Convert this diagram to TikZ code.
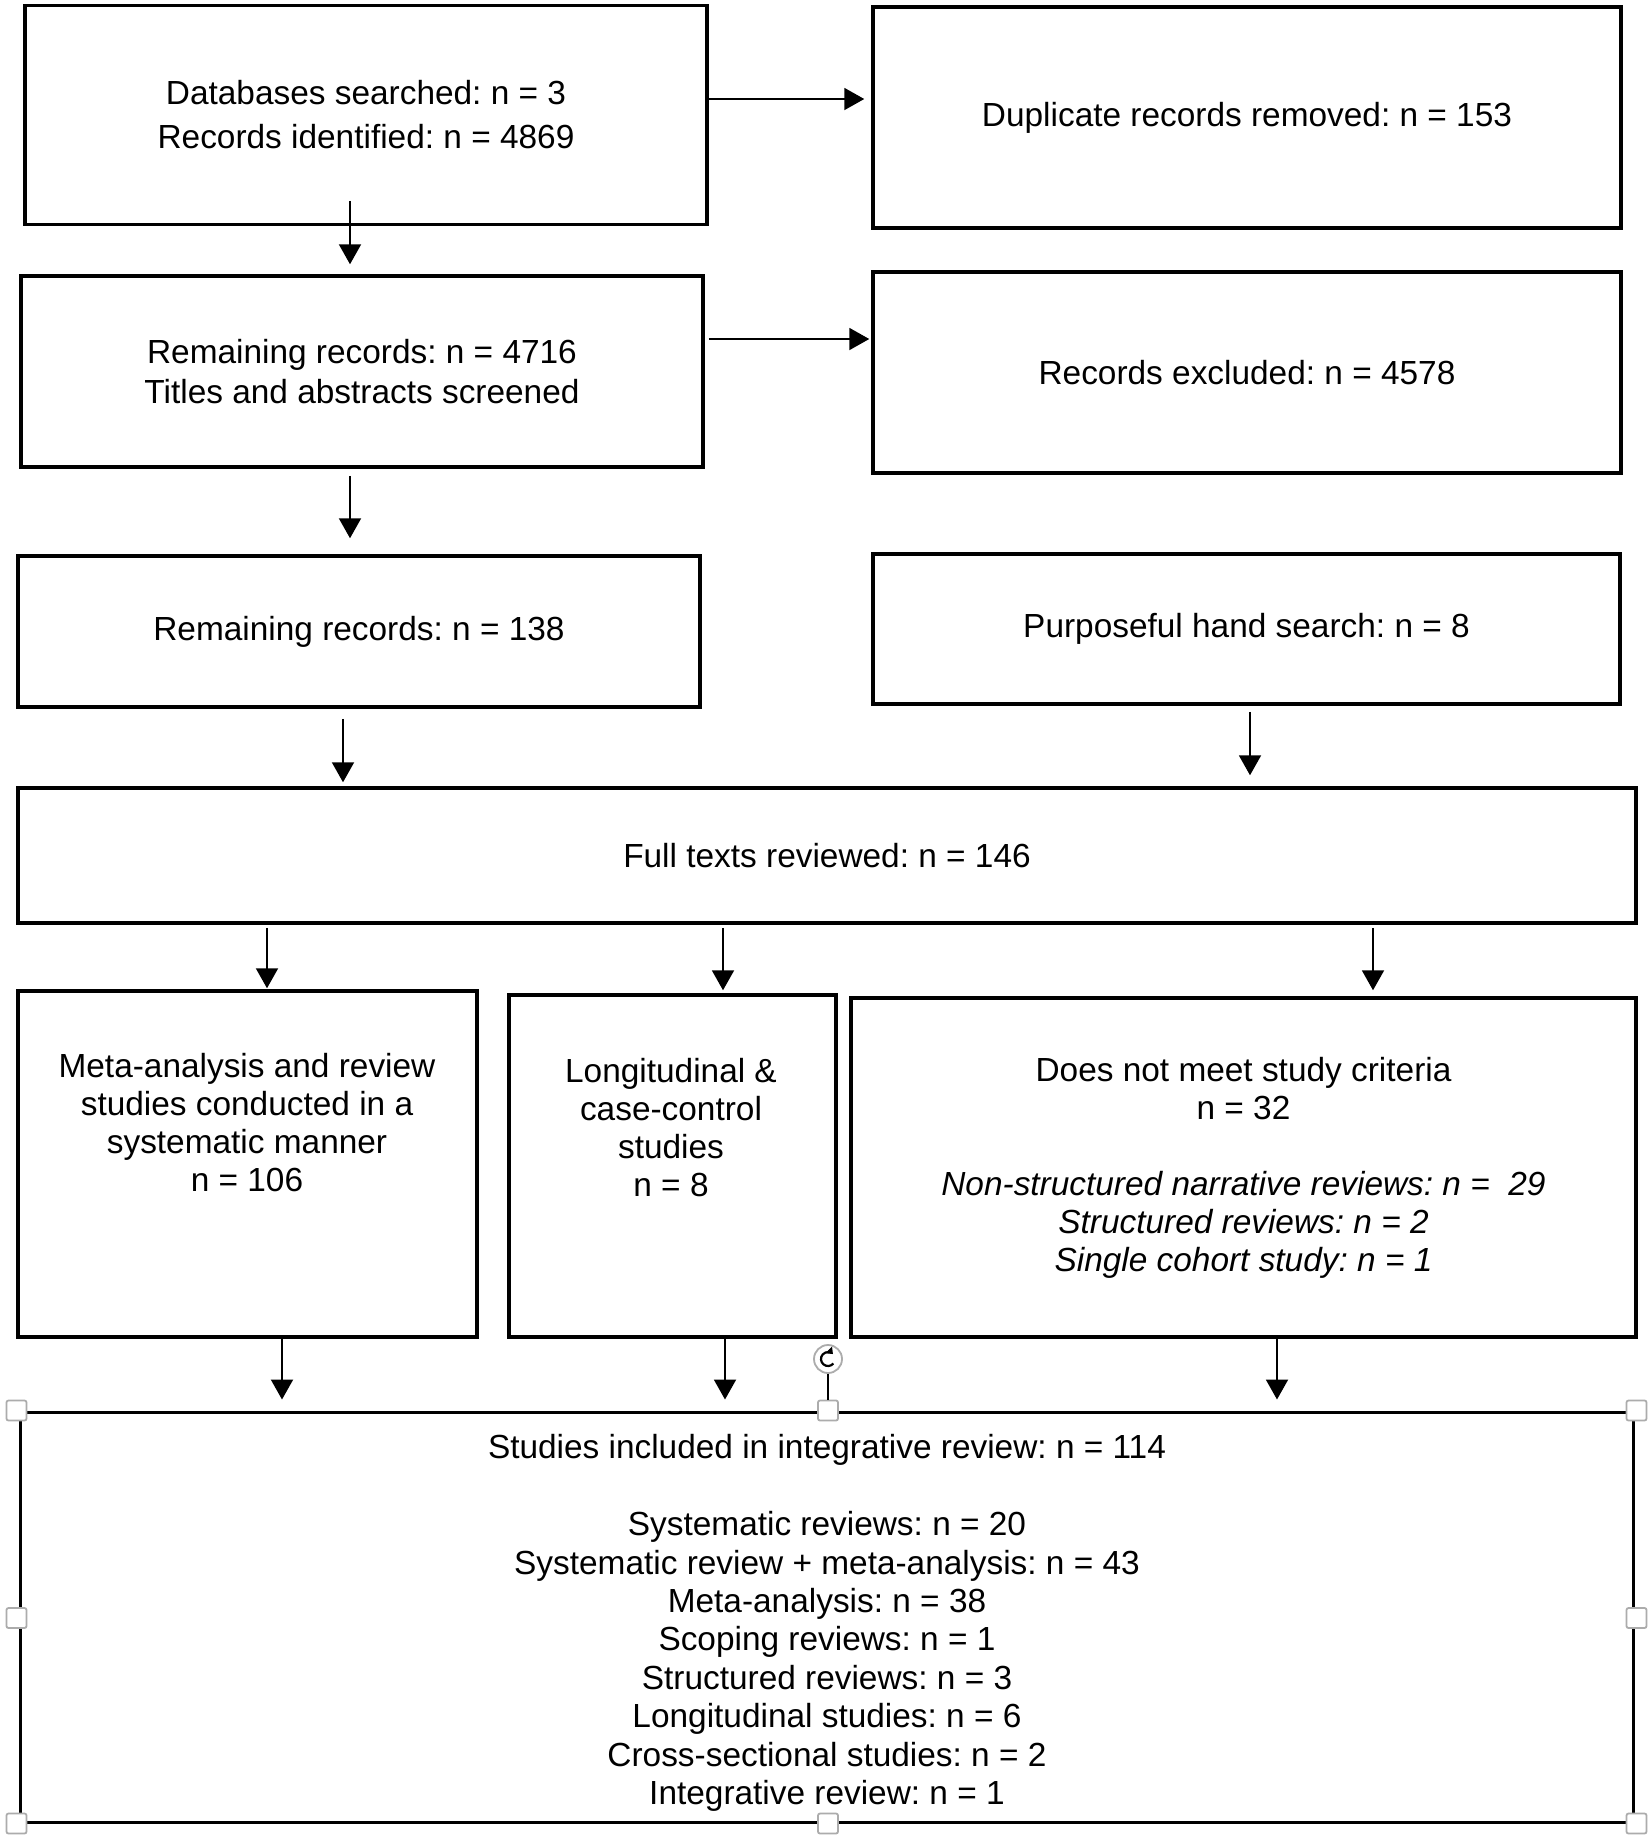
\documentclass[tikz,border=0pt]{standalone}
\usepackage{fontspec}
\setmainfont{Liberation Sans}
\usetikzlibrary{arrows.meta,calc}
\frenchspacing
\begin{document}
\begin{tikzpicture}[x=0.5pt,y=-0.5pt,
  box/.style={draw, line width=1.75pt, inner sep=0pt, rectangle},
  txt/.style={align=center, inner sep=0pt, font=\fontsize{16.7}{19}\selectfont},
  arr/.style={line width=1pt, -{Triangle[length=10pt,width=11pt]}},
  handle/.style={draw=gray!65, fill=white, line width=0.9pt, rounded corners=1pt, minimum size=10pt, inner sep=0pt, rectangle}]
\useasboundingbox (0,0) rectangle (1652,1843);
\fill[white] (0,0) rectangle (1652,1843);

% boxes
\node[box, txt, font=\fontsize{16.7}{22}\selectfont, minimum width=682*0.5pt, minimum height=219*0.5pt] (b1) at (366,115)
  {Databases searched: n = 3\\Records identified: n = 4869};
\node[box, txt, minimum width=748*0.5pt, minimum height=221*0.5pt] (b2) at (1247,117.5)
  {Duplicate records removed: n = 153};
\node[box, txt, font=\fontsize{16.7}{20}\selectfont, minimum width=682*0.5pt, minimum height=191*0.5pt] (b3) at (362,371.5)
  {Remaining records: n = 4716\\Titles and abstracts screened};
\node[box, txt, minimum width=748*0.5pt, minimum height=201*0.5pt] (b4) at (1247,372.5)
  {Records excluded: n = 4578};
\node[box, txt, minimum width=682*0.5pt, minimum height=151*0.5pt] (b5) at (359,631.5)
  {Remaining records: n = 138};
\node[box, txt, minimum width=747*0.5pt, minimum height=150*0.5pt] (b6) at (1246.5,629)
  {Purposeful hand search: n = 8};
\node[box, txt, minimum width=1618*0.5pt, minimum height=135*0.5pt] (b7) at (827,855.5)
  {Full texts reviewed: n = 146};
\node[box, minimum width=459*0.5pt, minimum height=346*0.5pt] (b8) at (247.5,1164) {};
\node[txt] (t8) at (247,1123)
  {Meta-analysis and review\\studies conducted in a\\systematic manner\\n = 106};
\node[box, minimum width=327*0.5pt, minimum height=342*0.5pt] (b9) at (672.5,1166) {};
\node[txt] (t9) at (671,1128)
  {Longitudinal \&\\case-control\\studies\\n = 8};
\node[box, txt, minimum width=785*0.5pt, minimum height=339*0.5pt] (b10) at (1243.5,1167.5)
  {Does not meet study criteria\\n = 32\\[19pt]
   \textit{Non-structured narrative reviews: n = \ 29}\\
   \textit{Structured reviews: n = 2}\\
   \textit{Single cohort study: n = 1}};
\node[box, line width=1.5pt, minimum width=1613*0.5pt, minimum height=410*0.5pt] (b11) at (826.5,1617) {};
\node[txt, font=\fontsize{16.7}{19.2}\selectfont] (t11) at (827,1623)
  {Studies included in integrative review: n = 114\\[19.2pt]
   Systematic reviews: n = 20\\
   Systematic review + meta-analysis: n = 43\\
   Meta-analysis: n = 38\\
   Scoping reviews: n = 1\\
   Structured reviews: n = 3\\
   Longitudinal studies: n = 6\\
   Cross-sectional studies: n = 2\\
   Integrative review: n = 1};

% arrows
\draw[arr] ($(b1.east)+(-3,-16)$) -- ($(b2.west)+(-7,-18.5)$);
\draw[arr] ($(b1.south)+(-16,-25.5)$) -- ($(b3.north)+(-12,-10)$);
\draw[arr] ($(b3.east)+(4,-32.5)$) -- ($(b4.west)+(-2,-33.5)$);
\draw[arr] ($(b3.south)+(-12,7)$) -- ($(b5.north)+(-9,-16)$);
\draw[arr] ($(b5.south)+(-16,10)$) -- ($(b7.north)+(-484,-4)$);
\draw[arr] ($(b6.south)+(3.5,6)$) -- ($(b7.north)+(423,-11)$);
\draw[arr] ($(b7.south)+(-560,3)$) -- ($(b8.north)+(19.5,-1)$);
\draw[arr] ($(b7.south)+(-104,3)$) -- ($(b9.north)+(50.5,-3)$);
\draw[arr] ($(b7.south)+(546,3)$) -- ($(b10.north)+(129.5,-6)$);
\draw[arr] ($(b8.south)+(34.5,-1)$) -- ($(b11.north)+(-544.5,-11)$);
\draw[arr] ($(b9.south)+(52.5,-1)$) -- ($(b11.north)+(-101.5,-11)$);
\draw[arr] ($(b10.south)+(33.5,-1)$) -- ($(b11.north)+(450.5,-11)$);

% selection handles
\node[handle] (h1) at ($(b11.north west)+(-2,0)$) {};
\node[handle] (h2) at ($(b11.north)+(1.5,0)$) {};
\node[handle] (h3) at ($(b11.north east)+(2,0)$) {};
\node[handle] (h4) at ($(b11.west)+(-2,1)$) {};
\node[handle] (h5) at ($(b11.east)+(2,1)$) {};
\node[handle] (h6) at ($(b11.south west)+(-2,0)$) {};
\node[handle] (h7) at ($(b11.south)+(1.5,0)$) {};
\node[handle] (h8) at ($(b11.south east)+(2,0)$) {};
\node[circle, draw=gray!65, fill=white, line width=0.9pt, minimum size=14pt, inner sep=0pt] (rot) at (828,1359) {};
\draw[line width=0.8pt] (rot.south) -- (h2.north);
\draw[line width=1.1pt, -{Triangle[length=3pt,width=4.5pt]}] (rot.center) ++(40:7) arc[start angle=40, end angle=315, radius=7];
\end{tikzpicture}
\end{document}
